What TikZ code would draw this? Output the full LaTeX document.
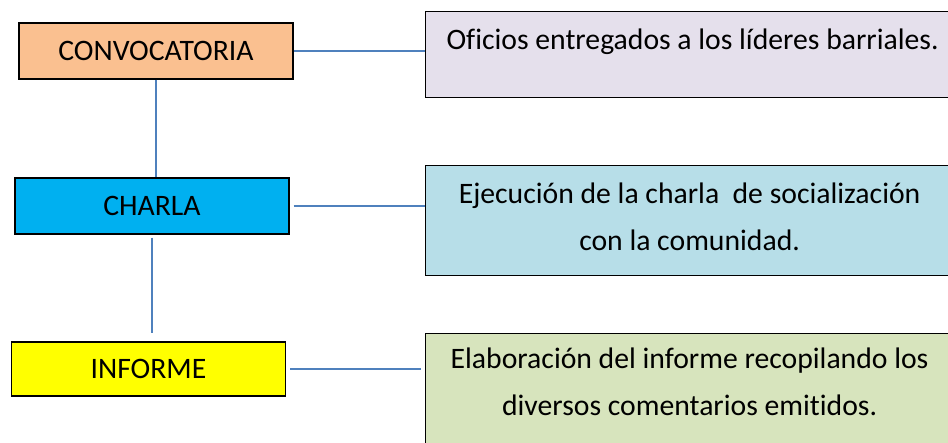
\documentclass[tikz,border=0pt]{standalone}
\usepackage{fontspec}
\setmainfont{Carlito}[Ligatures=NoCommon]
\usetikzlibrary{positioning}

\definecolor{naranja}{RGB}{250,192,144}
\definecolor{celeste}{RGB}{0,176,240}
\definecolor{amarillo}{RGB}{255,255,0}
\definecolor{lila}{RGB}{229,224,236}
\definecolor{aguamarina}{RGB}{183,222,232}
\definecolor{verdoso}{RGB}{215,228,189}
\definecolor{azulenlace}{RGB}{79,129,189}

\begin{document}
\begin{tikzpicture}[x=0.5pt,y=-0.5pt,
  every node/.style={font=\fontsize{14.85}{23.5}\selectfont},
  pasobox/.style={draw=black, line width=0.6pt, minimum width=137pt, minimum height=28pt, inner sep=0pt},
  detbox/.style={draw=black, line width=0.6pt, minimum width=264pt, anchor=north west, inner sep=0pt},
  dettexto/.style={anchor=base, text width=256pt, align=flush center, inner sep=0pt},
  enlace/.style={draw=azulenlace, line width=0.8pt}]
% Frame of the page
\useasboundingbox (0,0) rectangle (948,443);
\clip (0,0) rectangle (948,443);
% Steps on the left
\node[pasobox, fill=naranja] (conv) at (156,51) {CONVOCATORIA};
\node[pasobox, fill=celeste] (charla) at (152,206) {CHARLA};
\node[pasobox, fill=amarillo, minimum height=27pt] (informe) at (148.5,369) {INFORME};
% Detail boxes on the right
\node[detbox, fill=lila, minimum height=43pt] (oficios) at (425,11) {};
\node[dettexto] (oficiostxt) at ([xshift=1.5pt, yshift=-19.2pt]oficios.north) {Oficios entregados a los líderes barriales.};
\node[detbox, fill=aguamarina, minimum height=55pt] (ejecucion) at (425,165) {};
\node[dettexto] (ejecuciontxt) at ([yshift=-19.3pt]ejecucion.north) {Ejecución de la charla~ de socialización\\ con la comunidad.};
\node[detbox, fill=verdoso, minimum height=60pt] (elaboracion) at (425,333) {};
\node[dettexto] (elaboraciontxt) at ([yshift=-17.8pt]elaboracion.north) {Elaboración del informe recopilando los\\ diversos comentarios emitidos.};
% Links between steps
\draw[enlace] (conv.south) -- (conv.south |- charla.north);
\draw[enlace] ([yshift=-1.5pt]charla.south) -- ([yshift=4pt]charla.south |- informe.north);
% Links to the details
\draw[enlace] (conv.east) -- (conv.east -| oficios.west);
\draw[enlace] ([xshift=2pt]charla.east) -- (charla.east -| ejecucion.west);
\draw[enlace] ([xshift=2pt]informe.east) -- ([xshift=-2pt]informe.east -| elaboracion.west);
\end{tikzpicture}
\end{document}
